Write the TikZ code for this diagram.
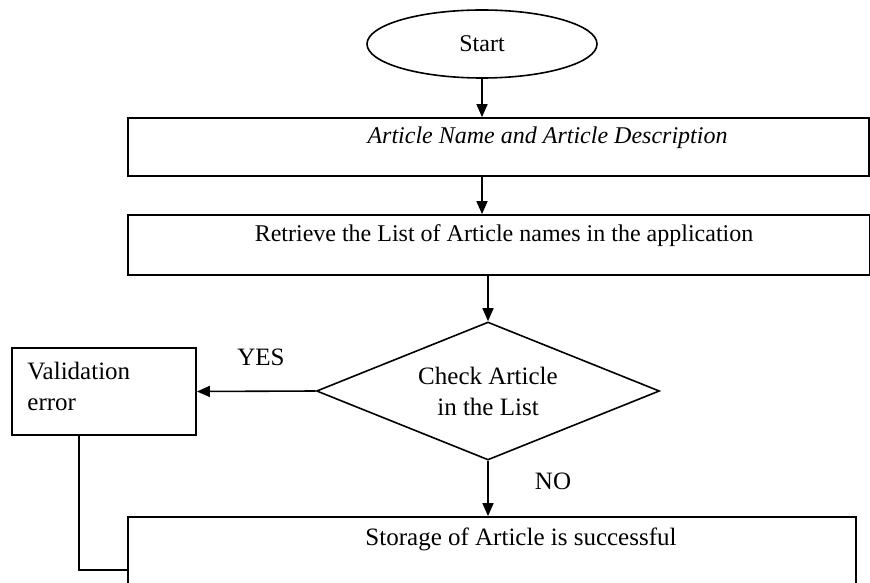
\documentclass[tikz,border=0pt]{standalone}
\usepackage{fontspec}
\setmainfont{Liberation Serif}
\usetikzlibrary{arrows.meta,shapes.geometric,positioning}

\begin{document}
\begin{tikzpicture}
    [x=0.5pt,y=-0.5pt,
    terminal/.style={ellipse,draw,line width=0.8pt,inner sep=0pt,
    minimum width=115pt,minimum height=34pt,font=\fontsize{12}{14}\selectfont},
    process/.style={rectangle,draw,line width=0.9pt,inner sep=0pt},
    decision/.style={diamond,draw,line width=0.8pt,inner sep=0pt,align=center,aspect=2.5,
    minimum width=171.5pt,minimum height=69pt,font=\fontsize{12.5}{15.5}\selectfont},
    boxtext/.style={inner sep=0pt,font=\fontsize{12}{14}\selectfont},
    lowtext/.style={inner sep=0pt,font=\fontsize{12.5}{15.5}\selectfont},
    flow/.style={line width=0.8pt,-{Triangle[length=6.5pt,width=5.5pt]}}]
    \useasboundingbox (0,0) rectangle (870,582);
    \clip (0,0) rectangle (870,582);
    % nodes
    \node[terminal] (start) at (482,44) {Start};
    \node[process,minimum width=370.5pt,minimum height=29pt] (article) at (498.5,147) {};
    \node[boxtext] (article text) at (547.5,138) {\itshape Article Name and Article Description};
    \node[process,minimum width=371pt,minimum height=30pt] (retrieve) at (499,245) {};
    \node[boxtext] (retrieve text) at (504,236) {Retrieve the List of Article names in the application};
    \node[decision] (check) at (488,391) {Check Article\\in the List};
    \node[process,minimum width=92pt,minimum height=43.5pt] (validation) at (104,391.5) {};
    \node[lowtext,align=left,anchor=west] (validation text) at (27,386) {Validation\\error};
    \node[process,minimum width=364pt,minimum height=51pt] (storage) at (492,568) {};
    \node[lowtext] (storage text) at (521,539) {Storage of Article is successful};
    \node[lowtext] (yes) at (261,357) {YES};
    \node[lowtext] (no) at (553,481) {NO};
    \coordinate (elbow) at (79,570);
    % connectors
    \draw[flow] (start.south) -- (start.south |- article.north);
    \draw[flow] (article.south -| start.south) -- (start.south |- retrieve.north);
    \draw[flow] (retrieve.south -| check.north) -- (check.north);
    \draw[flow] (check.west) -- (validation.east);
    \draw[flow] (check.south) -- (check.south |- storage.north);
    \draw[line width=0.8pt] (validation.south -| elbow) -- (elbow) -- (elbow -| storage.west);
\end{tikzpicture}
\end{document}
